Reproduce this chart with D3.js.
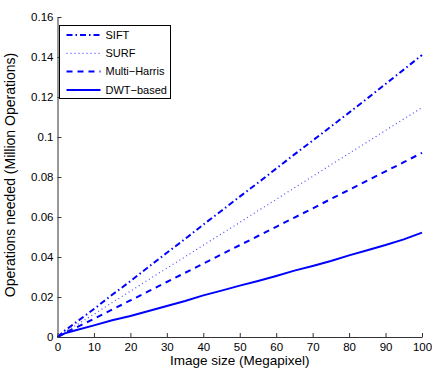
<!DOCTYPE html>
<html>
<head>
<meta charset="utf-8">
<script src="https://cdn.jsdelivr.net/npm/d3@7"></script>
<style>
  body { margin: 0; background: #fff; }
  svg text { font-family: "Liberation Sans", Arial, sans-serif; fill: #000; }
</style>
</head>
<body>
<div id="chart"></div>
<script>
// image size in megapixel
const sizes = [0, 2, 5, 10, 15, 20, 25, 30, 35, 40, 45, 50, 55, 60, 65, 70, 75, 80, 85, 90, 95, 100];

const sift   = [0, 0.0032, 0.0072, 0.0140, 0.0211, 0.0279, 0.0351, 0.0421, 0.0490, 0.0562, 0.0631, 0.0702, 0.0771, 0.0842, 0.0913, 0.0982, 0.1052, 0.1122, 0.1193, 0.1265, 0.1337, 0.1410];
const surf   = [0, 0.0026, 0.0058, 0.0114, 0.0172, 0.0229, 0.0287, 0.0344, 0.0401, 0.0459, 0.0516, 0.0573, 0.0631, 0.0688, 0.0746, 0.0803, 0.0861, 0.0918, 0.0975, 0.1033, 0.1090, 0.1147];
const harris = [0, 0.0022, 0.0046, 0.0091, 0.0137, 0.0183, 0.0229, 0.0275, 0.0321, 0.0367, 0.0413, 0.0459, 0.0505, 0.0551, 0.0597, 0.0643, 0.0690, 0.0736, 0.0782, 0.0828, 0.0874, 0.0921];
const dwt    = [0, 0.0018, 0.0034, 0.0058, 0.0084, 0.0105, 0.0130, 0.0155, 0.0180, 0.0208, 0.0232, 0.0257, 0.0280, 0.0305, 0.0332, 0.0355, 0.0380, 0.0408, 0.0434, 0.0460, 0.0488, 0.0522];

const seriesNames = ['SIFT', 'SURF', 'Multi\u2212Harris', 'DWT\u2212based'];
const xTicks = [0, 10, 20, 30, 40, 50, 60, 70, 80, 90, 100];
const yTicks = [0, 0.02, 0.04, 0.06, 0.08, 0.1, 0.12, 0.14, 0.16];

const width = 432, height = 371;
const margin = { left: 57.5, right: 10, top: 17, bottom: 34 };

const svg = d3.select('#chart').append('svg')
  .attr('width', width).attr('height', height);

const x = d3.scaleLinear().domain([0, 100]).range([margin.left, width - margin.right]);
const y = d3.scaleLinear().domain([0, 0.16]).range([height - margin.bottom, margin.top]);

const styles = [
  { dash: '6,3,1.5,3', width: 2, opacity: 1 },
  { dash: '1,3', width: 1.2, opacity: 0.7 },
  { dash: '6,5', width: 2, opacity: 1 },
  { dash: null, width: 2, opacity: 1 }
];
const allSeries = [sift, surf, harris, dwt];

const line = d3.line().x((d, i) => x(sizes[i])).y(d => y(d));

allSeries.forEach((s, k) => {
  svg.append('path')
    .datum(s)
    .attr('d', line)
    .attr('fill', 'none')
    .attr('stroke', '#0000ff')
    .attr('stroke-opacity', styles[k].opacity)
    .attr('stroke-width', styles[k].width)
    .attr('stroke-dasharray', styles[k].dash);
});

// axes, MATLAB style ticks pointing inward
const xAxis = svg.append('g')
  .attr('transform', `translate(0,${y(0)})`)
  .call(d3.axisBottom(x).tickValues(xTicks).tickSizeInner(-4).tickSizeOuter(0).tickPadding(3).tickFormat(d3.format('d')));
const yAxis = svg.append('g')
  .attr('transform', `translate(${x(0)},0)`)
  .call(d3.axisLeft(y).tickValues(yTicks).tickSizeInner(-4).tickSizeOuter(0).tickPadding(4).tickFormat(d => d === 0 ? '0' : String(+d.toFixed(2))));

[xAxis, yAxis].forEach(g => {
  g.select('.domain').attr('stroke', '#333').attr('stroke-width', 1);
  g.selectAll('.tick line').attr('stroke', '#333');
  g.selectAll('text').attr('font-size', 11.5).attr('font-family', '"Liberation Sans", Arial, sans-serif').attr('fill', '#000');
});
xAxis.selectAll('text').attr('y', 6).attr('dy', '0.71em');

svg.append('text')
  .attr('x', (x(0) + x(100)) / 2)
  .attr('y', 365)
  .attr('font-size', 13.5)
  .attr('text-anchor', 'middle')
  .text('Image size (Megapixel)');

svg.append('text')
  .attr('transform', `translate(15,${(y(0) + y(0.16)) / 2 - 2}) rotate(-90)`)
  .attr('font-size', 14)
  .attr('text-anchor', 'middle')
  .text('Operations needed (Million Operations)');

// legend
const legend = svg.append('g').attr('transform', 'translate(59.5,25.5)');
legend.append('rect')
  .attr('width', 111).attr('height', 73)
  .attr('fill', '#fff').attr('stroke', '#000').attr('stroke-width', 1);

seriesNames.forEach((name, i) => {
  const g = legend.append('g').attr('transform', `translate(0,${9.5 + i * 18.3})`);
  g.append('line')
    .attr('x1', 7).attr('x2', 41)
    .attr('stroke', '#0000ff')
    .attr('stroke-opacity', styles[i].opacity)
    .attr('stroke-width', styles[i].width)
    .attr('stroke-dasharray', styles[i].dash);
  g.append('text')
    .attr('x', 46).attr('dy', '0.35em')
    .attr('font-size', 11)
    .text(name);
});
</script>
</body>
</html>
